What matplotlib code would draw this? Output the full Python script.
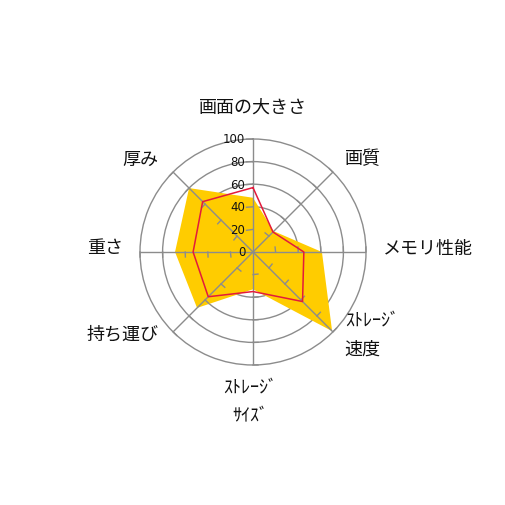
import numpy as np
import matplotlib
matplotlib.use("Agg")
import matplotlib.pyplot as plt

plt.rcParams['font.family'] = ['Noto Sans CJK JP', 'DejaVu Sans']

# データ
categories = ['画面の大きさ', '画質', 'メモリ性能', 'ｽﾄﾚｰｼﾞ\n速度',
              'ｽﾄﾚｰｼﾞ\nｻｲｽﾞ', '持ち運び', '重さ', '厚み']
yellow_values = [48, 26, 61, 99, 33, 70, 69, 80]
red_values = [57, 25, 45, 62, 35, 56, 53, 63]
r_ticks = [0, 20, 40, 60, 80, 100]

# ラベルの配置 (角度, 半径, ha, va)
label_layout = [
    (0, 129, 'center', 'center'),
    (49.6, 128, 'center', 'center'),
    (88.6, 155, 'center', 'center'),
    (131.9, 109, 'left', 'center'),
    (181.1, 132, 'center', 'center'),
    (237.8, 136, 'center', 'center'),
    (271.9, 131, 'center', 'center'),
    (309.7, 129, 'center', 'center'),
]

GRID = '#8c8c8c'
YELLOW = '#ffcc00'
RED = '#e31a3b'

n = len(categories)
theta = np.deg2rad(np.arange(n) * 360.0 / n)

fig = plt.figure(figsize=(5.06, 5.06), dpi=100)
rad = 113 / 506
ax = fig.add_axes([0.5 - rad, 0.5 - rad, 2 * rad, 2 * rad], projection='polar')
ax.set_theta_zero_location('N')
ax.set_theta_direction(-1)
ax.set_ylim(0, 100)

# グリッド
ax.set_thetagrids(np.rad2deg(theta), [''] * n)
ax.set_rgrids(r_ticks[1:-1], [''] * (len(r_ticks) - 2))
ax.xaxis.grid(True, color=GRID, linewidth=1.0)
ax.yaxis.grid(True, color=GRID, linewidth=1.0)
ax.tick_params(length=0)
ax.xaxis.set_zorder(2.5)
ax.yaxis.set_zorder(0.5)
ax.spines['polar'].set_color(GRID)
ax.spines['polar'].set_linewidth(1.0)

# 系列
t_closed = np.append(theta, theta[0])
ax.fill(t_closed, yellow_values + yellow_values[:1], color=YELLOW, linewidth=0, zorder=1)
ax.plot(t_closed, red_values + red_values[:1], color=RED, linewidth=1.1, zorder=4)

# 軸上の目盛り
scale = 113 / 100
for i, t in enumerate(theta):
    tick_len = 6.5 if i == 0 else 5
    for r in r_ticks[1:]:
        d = tick_len / (r * scale)
        ax.plot([t, t - d], [r, r], color=GRID, linewidth=1.0, zorder=3,
                clip_on=False)

# 目盛りラベル
for r in r_ticks:
    ax.annotate(str(r), xy=(0, r), xytext=(-5.5, 0), textcoords='offset points',
                ha='right', va='center', fontsize=8.5,
                family=['Liberation Sans Narrow', 'DejaVu Sans'], color='#111111',
                zorder=5, annotation_clip=False)

# カテゴリラベル
for name, (ang, r, ha, va) in zip(categories, label_layout):
    ax.text(np.deg2rad(ang), r, name, ha=ha, va=va, fontsize=13,
            multialignment=ha if ha != 'center' else 'center',
            linespacing=1.8, color='#111111', clip_on=False)

fig.savefig('out.png', dpi=100)
